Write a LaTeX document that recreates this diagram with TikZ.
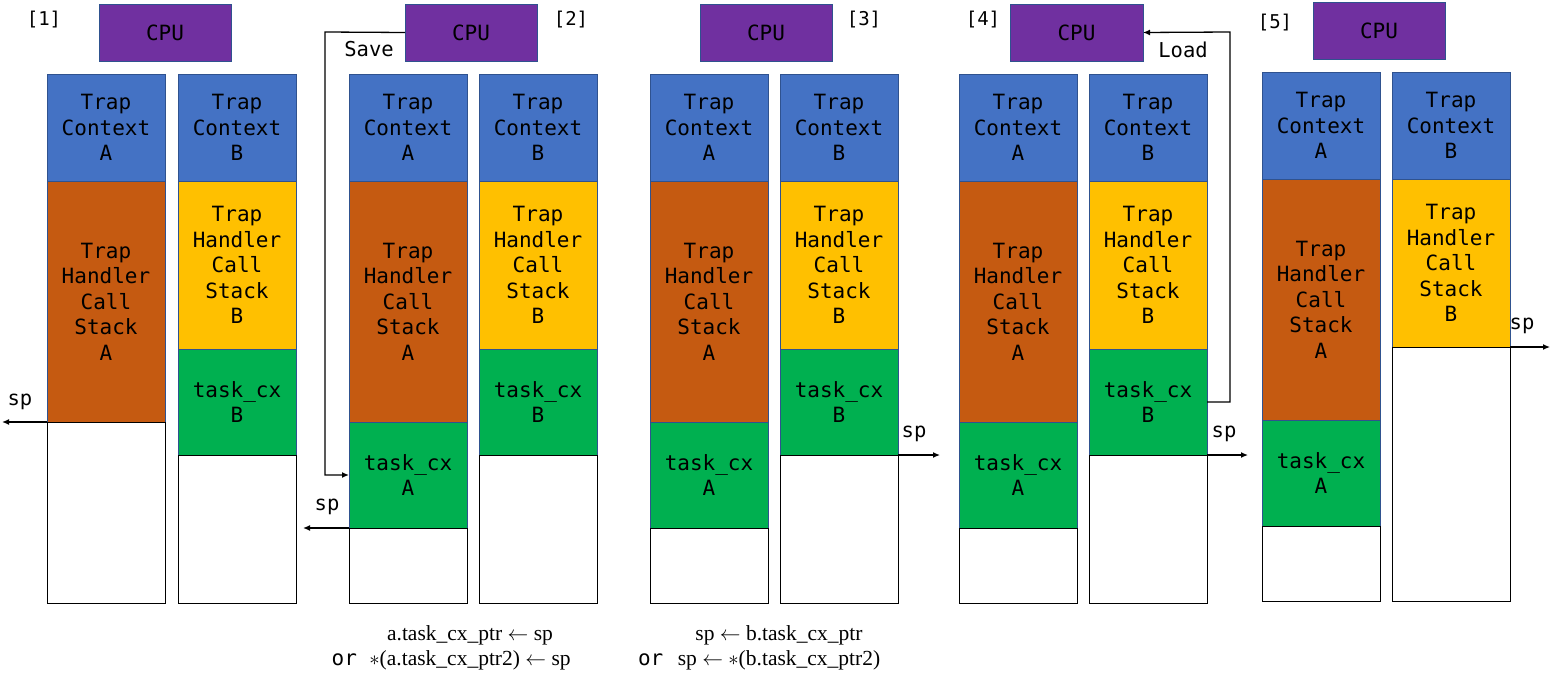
\documentclass[tikz,border=0pt]{standalone}
\usepackage{fontspec}
\setmainfont{Liberation Serif}
\newfontfamily\dmono{DejaVu Sans Mono}
\usetikzlibrary{arrows.meta}
\definecolor{tcblue}{HTML}{4472C4}
\definecolor{hbrown}{HTML}{C55A11}
\definecolor{hyellow}{HTML}{FFC000}
\definecolor{cxgreen}{HTML}{00B050}
\definecolor{cpupurple}{HTML}{7030A0}
\definecolor{bordc}{HTML}{2F528F}
\newcommand\boxfont{\dmono\fontsize{21}{25.5}\selectfont}
\begin{document}
\begin{tikzpicture}[x=1pt,y=-1pt,
  box/.style={draw=bordc, line width=0.8pt, anchor=north west, inner sep=0pt, outer sep=0pt,
    minimum width=118pt, align=center, font=\boxfont},
  tc/.style={box, fill=tcblue, minimum height=107pt},
  hA/.style={box, fill=hbrown, minimum height=241pt},
  hB/.style={box, fill=hyellow, minimum height=168pt},
  cx/.style={box, fill=cxgreen, minimum height=106pt},
  emp/.style={box, draw=black, fill=white},
  cpu/.style={box, fill=cpupurple, minimum width=132pt, minimum height=57pt},
  tag/.style={font=\dmono\fontsize{19}{22}\selectfont},
  lbl/.style={font=\dmono\fontsize{20.5}{24}\selectfont},
  conn/.style={draw=black, line width=1.3pt, -{Latex[length=7pt,width=6pt]}},
  formula/.style={font=\fontsize{21.5}{24}\selectfont, inner sep=0pt},
  ortxt/.style={font=\dmono\fontsize{21}{24}\selectfont, inner sep=0pt}
]
\useasboundingbox (0,0) rectangle (1553,677);

% ---------- Panel 1 ----------
\node[tag] (n1) at (44,20) {[1]};
\node[cpu] (cpu1) at (99,4) {CPU};
\node[tc] (tA1) at (47,74) {Trap\\Context\\A};
\node[hA] (hA1) at (tA1.south west) {Trap\\Handler\\Call\\Stack\\A};
\node[emp, minimum height=181pt] (eA1) at (hA1.south west) {};
\node[tc] (tB1) at (178,74) {Trap\\Context\\B};
\node[hB] (hB1) at (tB1.south west) {Trap\\Handler\\Call\\Stack\\B};
\node[cx] (cB1) at (hB1.south west) {task\_cx\\B};
\node[emp, minimum height=148pt] (eB1) at (cB1.south west) {};
\coordinate (sp1) at (2,422);
\draw[conn] (hA1.south west) -- (sp1);
\node[lbl] (spl1) at (20,402) {sp};

% ---------- Panel 2 ----------
\node[tag] (n2) at (571,20) {[2]};
\node[cpu] (cpu2) at (405,4) {CPU};
\node[tc] (tA2) at (349,74) {Trap\\Context\\A};
\node[hA] (hA2) at (tA2.south west) {Trap\\Handler\\Call\\Stack\\A};
\node[cx] (cA2) at (hA2.south west) {task\_cx\\A};
\node[emp, minimum height=75pt] (eA2) at (cA2.south west) {};
\node[tc] (tB2) at (479,74) {Trap\\Context\\B};
\node[hB] (hB2) at (tB2.south west) {Trap\\Handler\\Call\\Stack\\B};
\node[cx] (cB2) at (hB2.south west) {task\_cx\\B};
\node[emp, minimum height=148pt] (eB2) at (cB2.south west) {};
\coordinate (sv) at (325,32);
\draw[conn] (cpu2.west) -- (sv) |- (cA2.west);
\node[lbl] (save) at (369,49) {Save};
\coordinate (sp2) at (303,528);
\draw[conn] (cA2.south west) -- (sp2);
\node[lbl] (spl2) at (327,507) {sp};
\node[formula] (f2a) at (470,635) {a.task\_cx\_ptr $\leftarrow$ sp};
\node[formula] (f2b) at (470,660) {$\ast$(a.task\_cx\_ptr2) $\leftarrow$ sp};
\node[ortxt, anchor=east] (or2) at ([xshift=-12pt]f2b.west) {or};

% ---------- Panel 3 ----------
\node[tag] (n3) at (864,20) {[3]};
\node[cpu] (cpu3) at (700,4) {CPU};
\node[tc] (tA3) at (650,74) {Trap\\Context\\A};
\node[hA] (hA3) at (tA3.south west) {Trap\\Handler\\Call\\Stack\\A};
\node[cx] (cA3) at (hA3.south west) {task\_cx\\A};
\node[emp, minimum height=75pt] (eA3) at (cA3.south west) {};
\node[tc] (tB3) at (780,74) {Trap\\Context\\B};
\node[hB] (hB3) at (tB3.south west) {Trap\\Handler\\Call\\Stack\\B};
\node[cx] (cB3) at (hB3.south west) {task\_cx\\B};
\node[emp, minimum height=148pt] (eB3) at (cB3.south west) {};
\coordinate (sp3) at (940,455);
\draw[conn] (cB3.south east) -- (sp3);
\node[lbl] (spl3) at (914,434) {sp};
\node[formula] (f3a) at (779,635) {sp $\leftarrow$ b.task\_cx\_ptr};
\node[formula] (f3b) at (779,660) {sp $\leftarrow$ $\ast$(b.task\_cx\_ptr2)};
\node[ortxt, anchor=east] (or3) at ([xshift=-14pt]f3b.west) {or};

% ---------- Panel 4 ----------
\node[tag] (n4) at (983,20) {[4]};
\node[cpu, minimum width=133pt] (cpu4) at (1010,4) {CPU};
\node[tc] (tA4) at (959,74) {Trap\\Context\\A};
\node[hA] (hA4) at (tA4.south west) {Trap\\Handler\\Call\\Stack\\A};
\node[cx] (cA4) at (hA4.south west) {task\_cx\\A};
\node[emp, minimum height=75pt] (eA4) at (cA4.south west) {};
\node[tc] (tB4) at (1089,74) {Trap\\Context\\B};
\node[hB] (hB4) at (tB4.south west) {Trap\\Handler\\Call\\Stack\\B};
\node[cx] (cB4) at (hB4.south west) {task\_cx\\B};
\node[emp, minimum height=148pt] (eB4) at (cB4.south west) {};
\coordinate (ld) at (1230,32);
\draw[conn] (cB4.east) -| (ld) -- (cpu4.east);
\node[lbl] (load) at (1183,50) {Load};
\coordinate (sp4) at (1248,455);
\draw[conn] (cB4.south east) -- (sp4);
\node[lbl] (spl4) at (1224,434) {sp};

% ---------- Panel 5 ----------
\node[tag] (n5) at (1275,23) {[5]};
\node[cpu] (cpu5) at (1313,2) {CPU};
\node[tc] (tA5) at (1262,72) {Trap\\Context\\A};
\node[hA] (hA5) at (tA5.south west) {Trap\\Handler\\Call\\Stack\\A};
\node[cx] (cA5) at (hA5.south west) {task\_cx\\A};
\node[emp, minimum height=75pt] (eA5) at (cA5.south west) {};
\node[tc] (tB5) at (1392,72) {Trap\\Context\\B};
\node[hB] (hB5) at (tB5.south west) {Trap\\Handler\\Call\\Stack\\B};
\node[emp, minimum height=254pt] (eB5) at (hB5.south west) {};
\coordinate (sp5) at (1550,347);
\draw[conn] (hB5.south east) -- (sp5);
\node[lbl] (spl5) at (1522,326) {sp};
\end{tikzpicture}
\end{document}
